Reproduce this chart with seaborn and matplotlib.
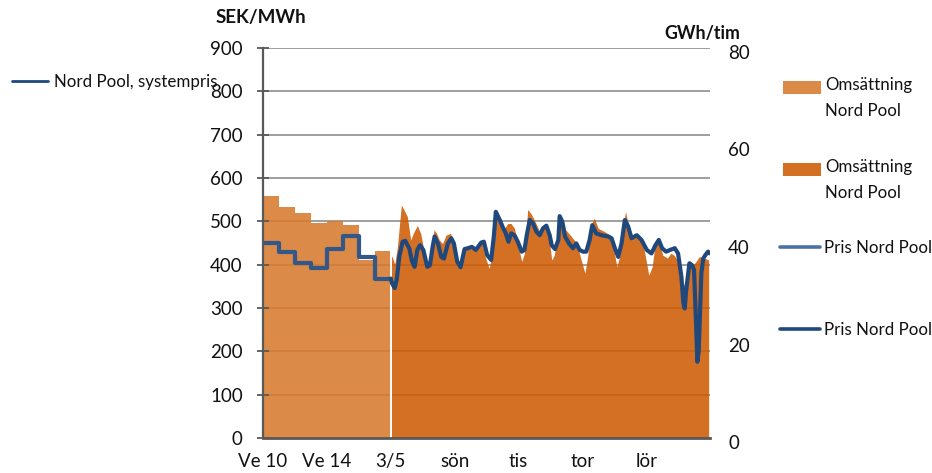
import matplotlib
matplotlib.use("Agg")
import numpy as np
import matplotlib.pyplot as plt
import seaborn as sns
from matplotlib.lines import Line2D
from matplotlib.patches import Patch, Rectangle
from matplotlib.legend_handler import HandlerPatch
from matplotlib.transforms import ScaledTranslation

# ---------------------------------------------------------------- data
# Weekly averages, weeks 10-17
weeks = ["Ve 10", "Ve 11", "Ve 12", "Ve 13", "Ve 14", "Ve 15", "Ve 16", "Ve 17"]
week_volume = [49.7, 47.3, 46.1, 44.2, 44.5, 43.7, 36.5, 38.4]      # GWh/tim
week_price = [449, 430, 405, 392, 435, 465, 417, 368]                # SEK/MWh

# Hourly turnover from Friday 3/5 00:00 (hours since start, GWh/tim)
vol_hours = [0, 1, 3, 5, 8, 10, 12.5, 15, 17, 20, 22.5, 24.5, 26.5, 29, 32.5, 34.5,
             36.5, 39, 41.5, 45, 47.5, 50, 53, 56, 58, 61, 64, 68, 71, 74, 76.5,
             78.5, 81, 83.5, 85.5, 88, 90.5, 93, 96, 98.5, 100.5, 103, 105.5, 108,
             112, 116, 118, 119, 121, 123, 125.5, 127, 129.5, 131.5, 135, 140,
             142.5, 146, 148, 151, 153, 156, 161, 165, 167.5, 170, 172, 174.5,
             176.5, 178.5, 181, 183.5, 188.5, 191, 194, 196.5, 198.5, 201.5,
             204.5, 208, 210.5, 213, 215.5, 217.5, 220, 222.5, 225, 227, 229, 232,
             236, 239]
vol_values = [36.4, 37.3, 35.6, 39.1, 47.8, 46.8, 45.4, 40.6, 42.0, 43.6, 42.0, 39.2,
              35.5, 35.5, 42.7, 42.0, 40.6, 39.9, 41.6, 42.0, 39.9, 35.7, 34.8, 38.6,
              38.9, 38.8, 38.8, 40.6, 37.2, 34.8, 37.9, 46.8, 45.8, 42.7, 43.0, 44.0,
              44.0, 43.0, 39.2, 36.2, 37.9, 46.9, 46.0, 44.7, 42.3, 44.0, 43.4, 41.3,
              36.5, 37.5, 42.7, 45.3, 44.7, 42.7, 41.6, 39.9, 37.2, 33.8, 37.2, 44.0,
              45.1, 43.0, 42.3, 41.6, 38.9, 35.1, 37.2, 43.4, 46.4, 44.0, 40.6, 42.0,
              41.0, 37.9, 33.4, 35.1, 39.2, 40.3, 37.5, 36.9, 37.9, 37.5, 36.5, 32.4,
              31.1, 33.1, 36.5, 35.5, 36.0, 37.2, 36.9, 36.5]

# Hourly system price (hours since start, SEK/MWh)
price_hours = [0, 1, 3, 4.5, 6.5, 9, 11, 14, 16, 18, 20, 22, 24.5, 27.5, 29.5, 31.5,
               33, 35.5, 38, 40, 43, 45.5, 47.5, 50, 52.5, 55.5, 58, 61, 64, 68, 70,
               72.5, 75.5, 77.5, 79, 82, 84, 86.5, 88.5, 90.5, 93, 95.5, 98.5, 100.5,
               102.5, 104.5, 107, 109.5, 112, 114.5, 117, 119.5, 121, 123.5, 126,
               127, 129, 131, 134, 137, 139.5, 142, 144.5, 147, 149.5, 151.5, 154.5,
               158.5, 163.5, 166, 168.5, 171, 173.5, 176, 178.5, 181, 185, 188.5,
               192.5, 196, 199, 201.5, 204, 207, 210, 213.5, 216, 218.5, 220, 221,
               222, 224.5, 226.5, 228, 229.5, 230.5, 231.5, 233.5, 235, 236.5, 238.5,
               240]
price_values = [368, 357, 346, 365, 420, 453, 455, 437, 408, 395, 434, 445, 434, 395,
                399, 441, 465, 449, 418, 414, 449, 461, 449, 407, 394, 436, 438, 441,
                434, 451, 453, 422, 411, 465, 522, 503, 488, 472, 453, 472, 468, 453,
                430, 434, 472, 503, 495, 476, 468, 484, 490, 468, 445, 436, 457, 512,
                499, 465, 449, 438, 449, 434, 430, 430, 457, 491, 472, 468, 465, 461,
                438, 418, 449, 503, 488, 461, 468, 457, 434, 426, 445, 457, 438, 430,
                434, 438, 426, 372, 311, 299, 338, 403, 399, 388, 265, 176, 200, 380,
                415, 422, 430, 426]

# Axis labels
first_week_ticks = ["Ve 10", "Ve 14"]
day_labels = ["3/5", "sön", "tis", "tor", "lör"]
day_offsets = [0, 2, 4, 6, 8]          # days after 3/5

# ---------------------------------------------------------------- style
sns.set_theme(style="white")
plt.rcParams["font.family"] = ["Lato", "DejaVu Sans"]

LIGHT = "#D87A2F"
DARK = "#CD5C04"
FILL_ALPHA = 0.88
BLUE = "#1F497D"
BLUE_LIGHT = "#4A71A6"
BLUE_WEEK = "#34578A"
AXIS_GREY = "#595959"
TXT = "#111111"
TICK_FS = 13.5

WEEK_W = 12                        # axis units taken by one week
x_split = len(weeks) * WEEK_W      # start of the hourly section
x_end = x_split + 240

fig = plt.figure(figsize=(9.32, 4.73), dpi=100)
rect = [263 / 932, 35 / 473, 447 / 932, 390 / 473]

# base axes: grid and category labels
ax_grid = fig.add_axes(rect)
# turnover (right scale), drawn above the grid
ax_vol = ax_grid.twinx()
# price (left scale), drawn on top
ax_price = ax_grid.twinx()

# ---------------------------------------------------------------- turnover areas
week_edges = np.arange(len(weeks) + 1) * WEEK_W
ax_vol.fill_between(week_edges, week_volume + [week_volume[-1]], step="post",
                    color=LIGHT, alpha=FILL_ALPHA, lw=0)
ax_vol.fill_between(x_split + np.asarray(vol_hours), vol_values,
                    color=DARK, alpha=FILL_ALPHA, lw=0)
ax_vol.vlines(x_split, 0, max(week_volume[-1], vol_values[0]), color="white", lw=1.4)

# ---------------------------------------------------------------- price lines
sns.lineplot(x=week_edges, y=week_price + [week_price[-1]], ax=ax_price,
             color=BLUE_WEEK, lw=3.0, drawstyle="steps-post",
             estimator=None, sort=False)
sns.lineplot(x=x_split + np.asarray(price_hours), y=price_values, ax=ax_price,
             color=BLUE, lw=3.0, estimator=None, sort=False)

# ---------------------------------------------------------------- axes
tick_pos = [0, 4 * WEEK_W] + [x_split + 24 * d for d in day_offsets]
tick_lab = first_week_ticks + day_labels

for a in (ax_grid, ax_vol, ax_price):
    a.set_xlim(0, x_end)
    a.set_xlabel("")
    a.set_ylabel("")
    for s in a.spines.values():
        s.set_visible(False)

ax_grid.set_ylim(0, 900)
ax_grid.set_yticks(np.arange(0, 901, 100))
ax_grid.tick_params(axis="y", left=False, right=False, labelleft=False, labelright=False)
ax_grid.yaxis.grid(True, color="#848484", lw=1.1)
ax_grid.xaxis.grid(False)
ax_grid.set_xticks(tick_pos)
ax_grid.set_xticklabels(tick_lab)
ax_grid.tick_params(axis="x", length=0, pad=11, labelsize=TICK_FS, labelcolor=TXT)

ax_vol.set_ylim(0, 80)
ax_vol.set_yticks([0, 20, 40, 60, 80])
ax_vol.set_yticklabels([str(v) for v in [0, 20, 40, 60, 80]])
ax_vol.tick_params(axis="y", length=0, pad=13, labelsize=TICK_FS, labelcolor=TXT)
ax_vol.grid(False)
# right-hand labels sit slightly below their levels
for lab in ax_vol.get_yticklabels():
    lab.set_transform(lab.get_transform()
                      + ScaledTranslation(0, -4 / 100, fig.dpi_scale_trans))

ax_price.set_ylim(0, 900)
ax_price.yaxis.tick_left()
ax_price.set_yticks(np.arange(0, 901, 100))
ax_price.tick_params(axis="y", direction="inout", length=9, width=1.3,
                     color=AXIS_GREY, pad=10, labelsize=TICK_FS, labelcolor=TXT,
                     left=True, right=False, labelleft=True, labelright=False)
ax_price.grid(False)
ax_price.spines["left"].set_visible(True)
ax_price.spines["left"].set_color(AXIS_GREY)
ax_price.spines["left"].set_linewidth(1.6)
ax_price.spines["bottom"].set_visible(True)
ax_price.spines["bottom"].set_color(AXIS_GREY)
ax_price.spines["bottom"].set_linewidth(2.0)

# ---------------------------------------------------------------- titles
fig.text(216 / 932, 1 - 18 / 473, "SEK/MWh", fontsize=13.5, fontweight="bold",
         color=TXT, va="center", ha="left")
fig.text(664 / 932, 1 - 34 / 473, "GWh/tim", fontsize=12.8, fontweight="bold",
         color=TXT, va="center", ha="left")


# ---------------------------------------------------------------- legends
LEG_FS = 12.2
LINE_SPACING = 1.75
fs_px = LEG_FS * 100 / 72


class FirstLinePatch(HandlerPatch):
    """Patch handle lined up with the first row of a two-row label."""

    def create_artists(self, legend, orig_handle, xdescent, ydescent,
                       width, height, fontsize, trans):
        shift = 0.5 * LINE_SPACING * 0.75 * fontsize
        p = Rectangle((-xdescent, -ydescent + shift), width, height)
        self.update_prop(p, orig_handle, legend)
        p.set_transform(trans)
        return [p]


def add_legend(handle, label, x_px, y_px, hlen_px, pad_px, **kw):
    leg = fig.legend([handle], [label], loc="center left",
                     bbox_to_anchor=(x_px / 932, 1 - y_px / 473),
                     frameon=False, fontsize=LEG_FS, borderpad=0, borderaxespad=0,
                     handlelength=hlen_px / fs_px, handletextpad=pad_px / fs_px,
                     labelspacing=0.2, **kw)
    for t in leg.get_texts():
        t.set_color(TXT)
        t.set_linespacing(LINE_SPACING)
    return leg

add_legend(Line2D([], [], color=BLUE, lw=2.0), "Nord Pool, systempris",
           12, 82, 36, 6)
add_legend(Patch(facecolor=LIGHT, alpha=FILL_ALPHA, lw=0), "Omsättning\nNord Pool",
           783, 98, 38, 4, handleheight=13 / fs_px,
           handler_map={Patch: FirstLinePatch()})
add_legend(Patch(facecolor=DARK, alpha=FILL_ALPHA, lw=0), "Omsättning\nNord Pool",
           783, 180, 38, 4, handleheight=13 / fs_px,
           handler_map={Patch: FirstLinePatch()})
add_legend(Line2D([], [], color=BLUE_LIGHT, lw=2.6), "Pris Nord Pool",
           780, 248, 40, 4)
add_legend(Line2D([], [], color=BLUE, lw=2.6), "Pris Nord Pool",
           780, 330, 40, 4)

fig.savefig("out.png", dpi=100)
